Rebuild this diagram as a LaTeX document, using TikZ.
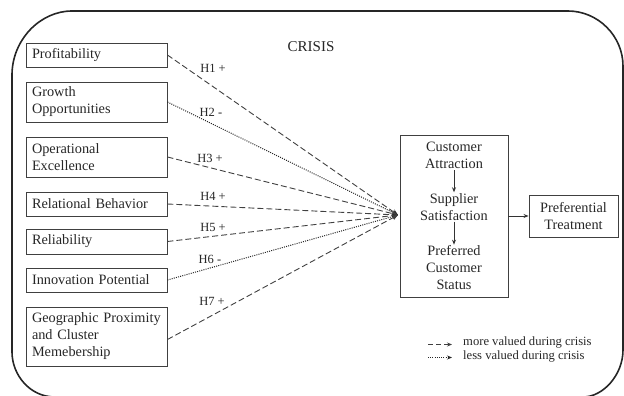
\documentclass[tikz,border=0pt]{standalone}
\usepackage{fontspec}
\setmainfont{Liberation Serif}
\usetikzlibrary{arrows.meta}
\tikzset{
  base/.style={font=\fontsize{14.3}{17}\selectfont, text=black!85},
  lbox/.style={base, draw=black!75, line width=0.9pt, minimum width=141pt, text width=129pt, inner xsep=6pt, inner ysep=0pt, align=left},
  cbox/.style={draw=black!75, line width=0.9pt, minimum width=108pt, minimum height=162pt, inner sep=0pt},
  ctext/.style={base, align=center, inner sep=1pt},
  hlabel/.style={font=\fontsize{12.5}{14}\selectfont, text=black!85, inner sep=0pt},
  legtext/.style={font=\fontsize{12.6}{14}\selectfont, text=black!85, inner sep=0pt, anchor=west},
  dashline/.style={draw=black!75, line width=0.9pt, dash pattern=on 6pt off 3pt, -{Stealth[length=6pt,width=5pt]}},
  dotline/.style={draw=black!85, line width=1pt, dash pattern=on 1pt off 1.2pt, -{Stealth[length=6pt,width=5pt]}},
  solidarrow/.style={draw=black!80, line width=0.9pt, -{Stealth[length=5pt,width=4pt]}},
  frame/.style={draw=black!85, line width=1.6pt}
}
\begin{document}
\begin{tikzpicture}[x=1pt,y=-1pt]
\useasboundingbox (0,0) rectangle (624,396);
% outer frame
\draw[frame] (72,11) -- (568,11)
  .. controls (598,11) and (623,36) .. (623,66)
  -- (623,350)
  .. controls (623,375) and (603,397) .. (583,397)
  -- (55,397)
  .. controls (30,397) and (12,375) .. (12,352)
  -- (12,75)
  .. controls (12,40) and (40,11) .. (72,11) -- cycle;
\node[base, font=\fontsize{15}{17}\selectfont] (crisis) at (311,47) {CRISIS};
% left boxes
\node[lbox, minimum height=24pt] (prof) at (96.5,55) {Profitability};
\node[lbox, minimum height=40pt] (grow) at (96.5,102) {Growth\\Opportunities};
\node[lbox, minimum height=40pt] (oper) at (96.5,157) {Operational\\Excellence};
\node[lbox, minimum height=24pt] (rel) at (96.5,204) {Relational Behavior};
\node[lbox, minimum height=25pt] (reli) at (96.5,241.5) {Reliability};
\node[lbox, minimum height=24pt] (inno) at (96.5,280) {Innovation Potential};
\node[lbox, minimum height=59pt] (geo) at (96.5,336.5) {Geographic Proximity\\and Cluster\\Memebership};
% center box
\node[cbox] (cb) at (454,216) {};
\coordinate (conv) at (398,215);
\node[ctext] (ca) at (454,155.5) {Customer\\Attraction};
\node[ctext] (ss) at (454,207) {Supplier\\Satisfaction};
\node[ctext] (pc) at (454,268) {Preferred\\Customer\\Status};
\draw[solidarrow] (ca) -- (ss);
\draw[solidarrow] (ss) -- (pc);
% preferential treatment
\node[base, draw=black!75, line width=0.9pt, minimum width=89pt, minimum height=42pt, align=center, inner sep=0pt] (pt) at (573.5,216) {Preferential\\Treatment};
\draw[solidarrow] (cb.east |- pt.west) -- (pt.west);
% hypothesis connectors
\draw[dashline] (prof.east) -- (conv);
\draw[dotline] (grow.east) -- (conv);
\draw[dashline] (oper.east) -- (conv);
\draw[dashline] (rel.east) -- (conv);
\draw[dashline] (reli.east) -- (conv);
\draw[dotline] (inno.east) -- (conv);
\draw[dashline] ([yshift=-3pt]geo.east) -- (conv);
% labels
\node[hlabel] (h1) at (213,68) {H1 +};
\node[hlabel] (h2) at (211,112) {H2 -};
\node[hlabel] (h3) at (210,158.5) {H3 +};
\node[hlabel] (h4) at (213,196) {H4 +};
\node[hlabel] (h5) at (213,227) {H5 +};
\node[hlabel] (h6) at (210,259) {H6 -};
\node[hlabel] (h7) at (212,301) {H7 +};
% legend
\coordinate (l1a) at (428,344.5);
\coordinate (l1b) at (452,344.5);
\coordinate (l2a) at (428,357.5);
\coordinate (l2b) at (452,357.5);
\draw[dashline, dash pattern=on 5pt off 3pt, -{Stealth[length=5pt,width=4pt]}] (l1a) -- (l1b);
\draw[dotline, -{Stealth[length=5pt,width=4pt]}] (l2a) -- (l2b);
\node[legtext] (lt1) at (463,342) {more valued during crisis};
\node[legtext] (lt2) at (463,356) {less valued during crisis};
\end{tikzpicture}
\end{document}
